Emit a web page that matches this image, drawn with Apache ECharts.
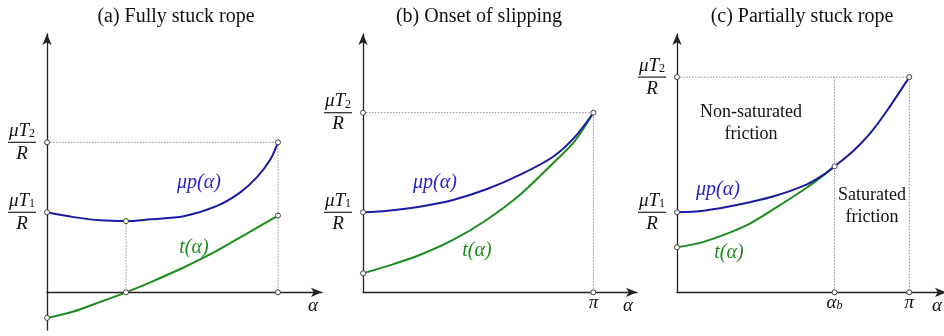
<!DOCTYPE html>
<html>
<head>
<meta charset="utf-8">
<script src="https://cdn.jsdelivr.net/npm/echarts@6/dist/echarts.min.js"></script>
<style>
  html, body { margin: 0; padding: 0; background: #fff; }
  #chart { width: 944px; height: 336px; }
</style>
</head>
<body>
<div id="chart"></div>
<script>
const PI = Math.PI;

// (a) fully stuck rope
const aAlphaP = [0, 0.362, 0.725, 1.074, 1.405, 1.858, 2.312, 2.629, 2.856, 3.037, PI];
const aMuP = [1.0, 0.94, 0.9, 0.89, 0.9125, 0.95, 1.08, 1.25, 1.44, 1.66, 1.875];
const aAlphaT = [0, 0.362, 0.725, 1.074, 1.405, 1.858, 2.312, 2.765, PI];
const aT = [-0.32, -0.24, -0.12, 0, 0.125, 0.31, 0.52, 0.76, 0.96];
const aT1 = 1.0, aT2 = 1.875, aAlpha0 = 1.074, aPMin = 0.89;

// (b) onset of slipping
const bAlpha = [0, 0.341, 0.773, 1.227, 1.683, 2.137, 2.591, 2.887, PI];
const bMuP = [1.0, 1.02, 1.07, 1.154, 1.2875, 1.4675, 1.695, 1.94, 2.245];
const bT = [0.2375, 0.33, 0.466, 0.654, 0.904, 1.216, 1.6125, 1.89, 2.245];
const bT1 = 1.0, bT2 = 2.245;

// (c) partially stuck rope
const cAlphaP = [0, 0.36, 0.856, 1.306, 1.758, 1.983, 2.131, 2.388, 2.614, 2.84, PI];
const cMuP = [1.0, 1.02, 1.1, 1.2, 1.35, 1.47, 1.575, 1.77, 1.99, 2.27, 2.69];
const cAlphaT = [0, 0.36, 0.924, 1.306, 1.758, 2.073, 2.131];
const cT = [0.5625, 0.63, 0.83, 1.04, 1.31, 1.53, 1.575];
const cT1 = 1.0, cT2 = 2.69, cAlphaB = 2.131;

const titles = ["(a) Fully stuck rope", "(b) Onset of slipping", "(c) Partially stuck rope"];

const SERIF = "Liberation Serif";
const BLUE = "#1a1aa6";
const GREEN = "#1c8c1c";
const AXIS = "#222";
const GUIDE = "#8a8a8a";

const zip = (xs, ys) => xs.map((x, i) => [x, ys[i]]);
const last = (arr) => arr[arr.length - 1];

const panels = [
  {
    grid: { left: 47, top: 34, width: 275, height: 296 },
    xMax: 3.74, yMin: -0.471, yMax: 3.229,
    p: zip(aAlphaP, aMuP), t: zip(aAlphaT, aT),
    T1: aT1, T2: aT2,
    xTicks: [aAlpha0, PI], xText: ["{g|α}{s|0}", "{g|π}"],
    guides: [[[0, aT2], [PI, aT2], [PI, 0]], [[aAlpha0, aPMin], [aAlpha0, 0]]],
    dots: [[0, aT2], [0, aT1], [0, aT[0]], [aAlpha0, aPMin], [aAlpha0, 0], [PI, aT2], [PI, last(aT)], [PI, 0]]
  },
  {
    grid: { left: 363, top: 34, width: 274, height: 258.3 },
    xMax: 3.736, yMin: 0, yMax: 3.229,
    p: zip(bAlpha, bMuP), t: zip(bAlpha, bT),
    T1: bT1, T2: bT2,
    xTicks: [PI], xText: ["{g|π}"],
    guides: [[[0, bT2], [PI, bT2], [PI, 0]]],
    dots: [[0, bT2], [0, bT1], [0, bT[0]], [PI, bT2], [PI, 0]]
  },
  {
    grid: { left: 677, top: 34, width: 269, height: 258.3 },
    xMax: 3.638, yMin: 0, yMax: 3.229,
    p: zip(cAlphaP, cMuP), t: zip(cAlphaT, cT),
    T1: cT1, T2: cT2,
    xTicks: [cAlphaB, PI], xText: ["{g|α}{si|b}", "{g|π}"],
    guides: [[[0, cT2], [PI, cT2], [PI, 0]], [[cAlphaB, cT2], [cAlphaB, 0]]],
    dots: [[0, cT2], [0, cT1], [0, cT[0]], [cAlphaB, last(cT)], [cAlphaB, 0], [PI, cT2], [PI, 0]]
  }
];

const fracRich = {
  n: { fontFamily: SERIF, fontStyle: "italic", fontSize: 19, lineHeight: 19, color: "#111", align: "center" },
  s: { fontFamily: SERIF, fontSize: 12, lineHeight: 6, verticalAlign: "bottom", color: "#111", align: "center" },
  b: { width: 28, height: 1.2, lineHeight: 4, backgroundColor: "#222", align: "center", fontSize: 1 },
  d: { fontFamily: SERIF, fontStyle: "italic", fontSize: 19, lineHeight: 19, color: "#111", align: "center" }
};
const xRich = {
  g: { fontFamily: SERIF, fontStyle: "italic", fontSize: 19, lineHeight: 18, color: "#111" },
  s: { fontFamily: SERIF, fontSize: 12, lineHeight: 6, verticalAlign: "bottom", color: "#111" },
  si: { fontFamily: SERIF, fontStyle: "italic", fontSize: 12, lineHeight: 6, verticalAlign: "bottom", color: "#111" }
};

const axisLine = {
  show: true,
  onZero: true,
  symbol: ["none", "arrow"],
  symbolSize: [7, 11],
  lineStyle: { color: AXIS, width: 1.3 }
};

const grids = [], xAxes = [], yAxes = [], series = [];
panels.forEach((pn, i) => {
  grids.push({ ...pn.grid, containLabel: false, outerBoundsMode: "none" });
  xAxes.push({
    type: "value", gridIndex: i, min: 0, max: pn.xMax,
    axisLine, axisTick: { show: false }, splitLine: { show: false },
    name: "α", nameLocation: "end", nameGap: -9,
    nameTextStyle: { fontFamily: SERIF, fontStyle: "italic", fontSize: 19, color: "#111", align: "center", verticalAlign: "top", padding: [4, 0, 0, 0] },
    axisLabel: {
      customValues: pn.xTicks, margin: 2,
      formatter: (v) => pn.xText[pn.xTicks.indexOf(v)] || "",
      rich: xRich
    }
  });
  yAxes.push({
    type: "value", gridIndex: i, min: pn.yMin, max: pn.yMax,
    axisLine, axisTick: { show: false }, splitLine: { show: false },
    axisLabel: {
      customValues: [pn.T1, pn.T2], margin: 11,
      formatter: (v) => "{n|μT}{s|" + (v === pn.T2 ? "2" : "1") + "}\n{b| }\n{d|R}",
      rich: fracRich
    }
  });
  pn.guides.forEach((g) => series.push({
    type: "line", xAxisIndex: i, yAxisIndex: i, data: g, symbol: "none", silent: true, z: 1,
    lineStyle: { color: GUIDE, width: 1, type: [1.5, 1.5] }
  }));
  series.push({
    type: "line", xAxisIndex: i, yAxisIndex: i, data: pn.t, symbol: "none", smooth: 0.3, z: 3,
    lineStyle: { color: GREEN, width: 2 }
  });
  series.push({
    type: "line", xAxisIndex: i, yAxisIndex: i, data: pn.p, symbol: "none", smooth: 0.3, z: 4,
    lineStyle: { color: BLUE, width: 2 }
  });
  series.push({
    type: "scatter", xAxisIndex: i, yAxisIndex: i, data: pn.dots, symbol: "circle", symbolSize: 5, z: 6,
    itemStyle: { color: "#fff", borderColor: "#444", borderWidth: 1, opacity: 1 }
  });
});

const txt = (text, x, y, size, italic, fill) => ({
  type: "text", x, y, z: 10,
  style: {
    text, fill,
    fontFamily: SERIF, fontSize: size, fontStyle: italic ? "italic" : "normal",
    align: "center", verticalAlign: "middle", lineHeight: 22
  }
});

const chart = echarts.init(document.getElementById("chart"), null, { renderer: "canvas" });
chart.setOption({
  animation: false,
  backgroundColor: "#fff",
  grid: grids,
  xAxis: xAxes,
  yAxis: yAxes,
  series,
  graphic: [
    txt(titles[0], 176, 17, 20, false, "#111"),
    txt(titles[1], 479, 17, 20, false, "#111"),
    txt(titles[2], 802, 17, 20, false, "#111"),
    txt("μp(α)", 199, 183, 20, true, "#2424c0"),
    txt("t(α)", 194, 248, 20, true, "#1e8a1e"),
    txt("μp(α)", 435, 183, 20, true, "#2424c0"),
    txt("t(α)", 477, 251, 20, true, "#1e8a1e"),
    txt("μp(α)", 718, 190, 20, true, "#2424c0"),
    txt("t(α)", 729, 253, 20, true, "#1e8a1e"),
    txt("Non-saturated\nfriction", 751, 123, 18, false, "#111"),
    txt("Saturated\nfriction", 872, 206, 18, false, "#111")
  ]
});
</script>
</body>
</html>
